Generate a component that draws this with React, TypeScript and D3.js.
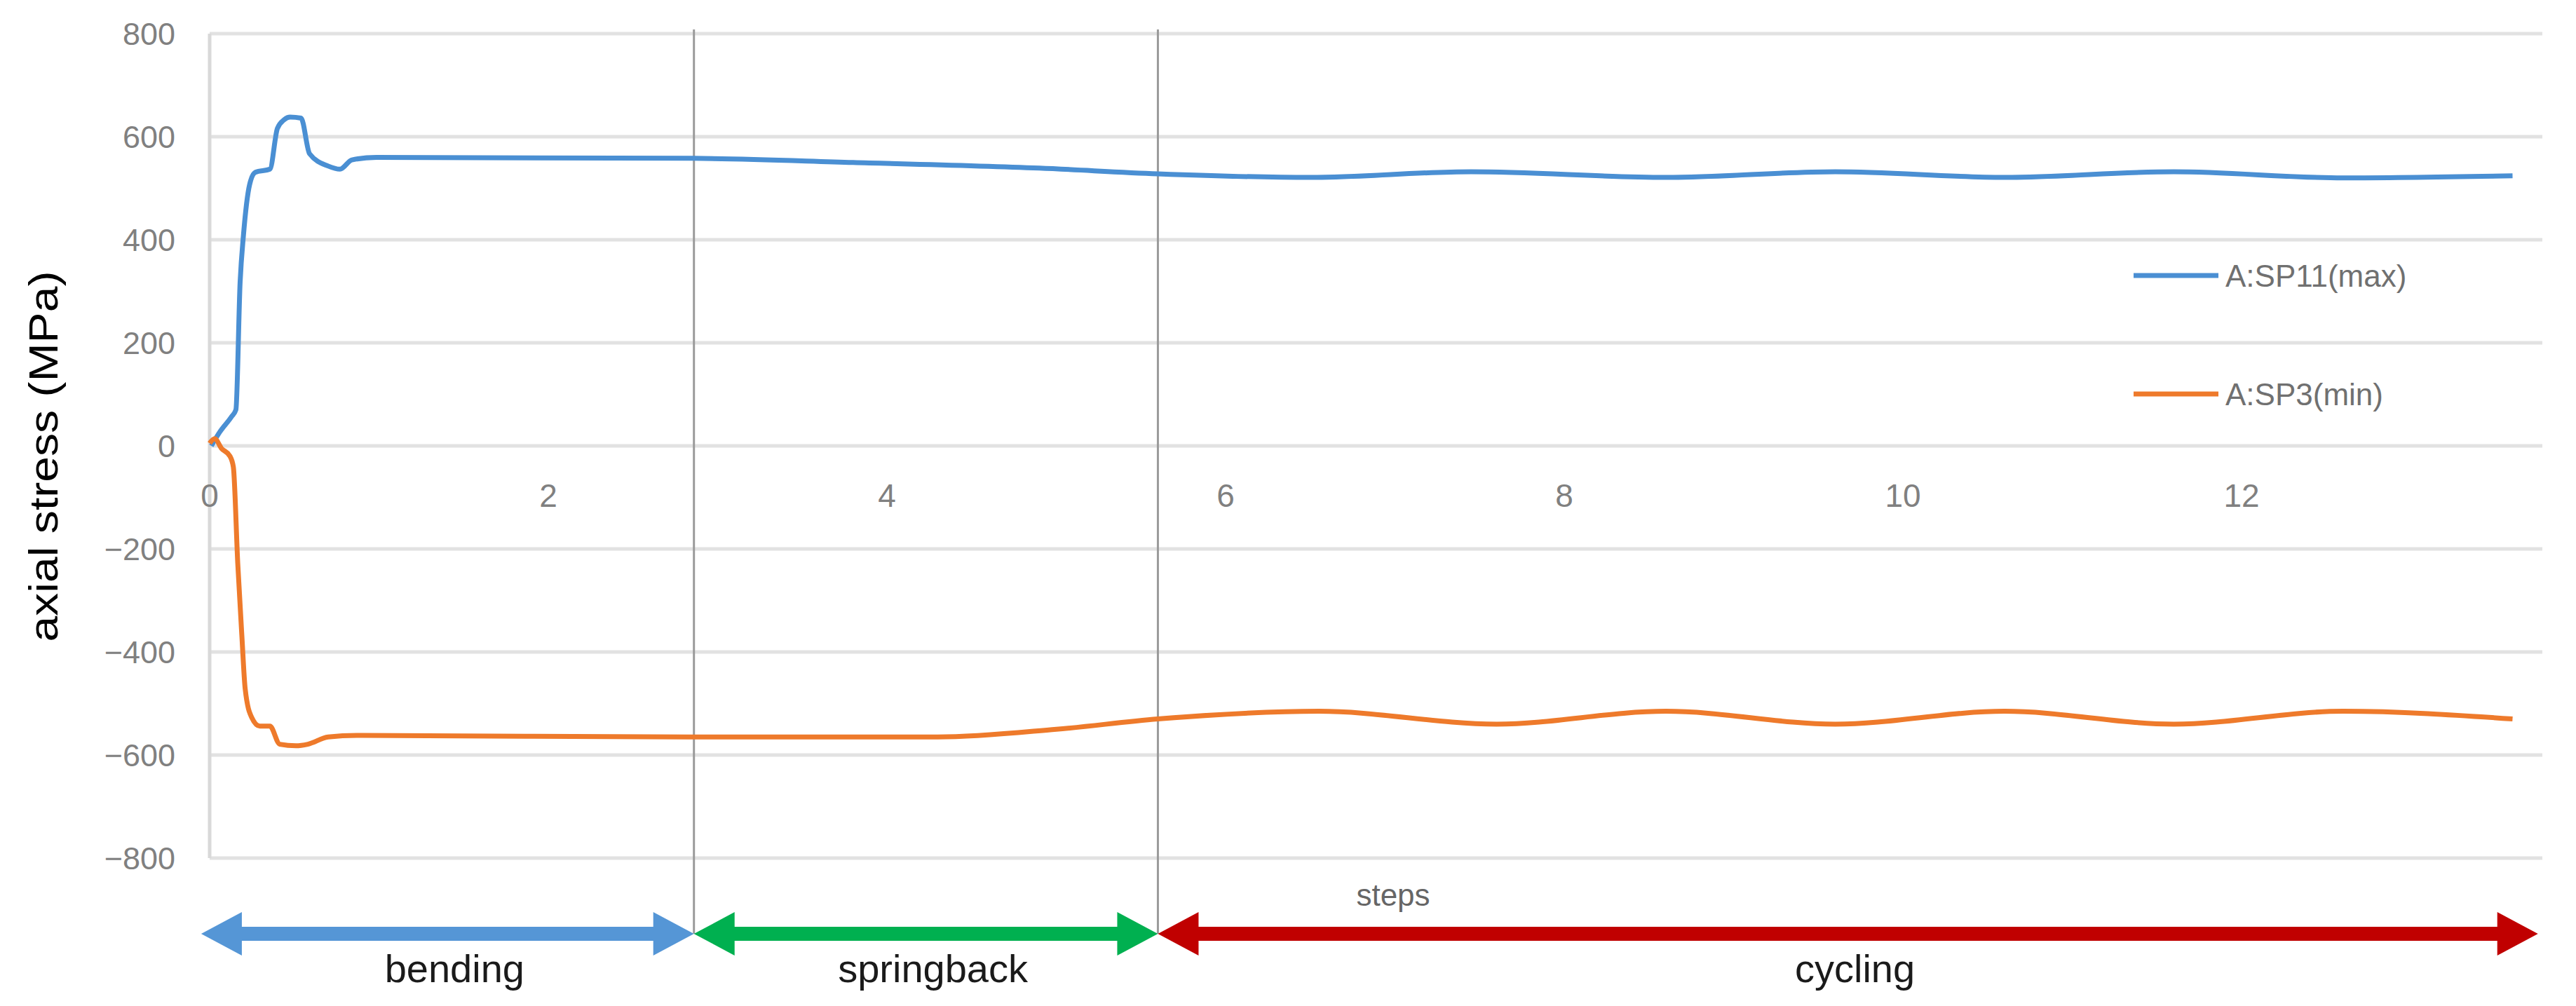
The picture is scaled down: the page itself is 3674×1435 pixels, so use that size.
import React from 'react';
import * as d3 from 'd3';

// steps (x) and axial stress in MPa (y)
const maxSteps = [0.01, 0.06, 0.13, 0.155, 0.18, 0.2, 0.236, 0.27, 0.356, 0.4, 0.44, 0.475, 0.54, 0.59, 0.7, 0.77, 0.84, 0.985, 2.86, 3.8, 4.9, 5.6, 6.5, 7.45, 8.6, 9.6, 10.6, 11.6, 12.6, 13.6];
const maxStress = [0, 27, 57, 70, 318, 410, 507, 531, 537, 616, 633, 638, 636, 567, 543, 537, 555, 560, 558, 550, 539, 528, 521, 532, 521, 532, 521, 532, 520, 524];

const minSteps = [0, 0.03, 0.07, 0.12, 0.14, 0.166, 0.19, 0.21, 0.248, 0.296, 0.356, 0.414, 0.51, 0.58, 0.7, 0.87, 2.86, 4.3, 5.0, 5.6, 6.55, 7.6, 8.6, 9.6, 10.6, 11.6, 12.6, 13.6];
const minStress = [5, 14, -5, -20, -41, -228, -367, -472, -527, -544, -544, -579, -582, -579, -565, -562, -565, -565, -550, -530, -515, -540, -515, -540, -515, -540, -515, -530];

const seriesNames = ['A:SP11(max)', 'A:SP3(min)'];
const seriesColors = ['#4a8fd3', '#ee7a2b'];

const xTicks = [0, 2, 4, 6, 8, 10, 12];
const yTicks = [-800, -600, -400, -200, 0, 200, 400, 600, 800];

const phaseNames = ['bending', 'springback', 'cycling'];
const phaseStart = [-0.05, 2.86, 5.6];
const phaseEnd = [2.86, 5.6, 13.75];
const phaseColors = ['#5596d6', '#00b050', '#c00000'];

const W = 3674;
const H = 1435;
const font = 'Arial, "Liberation Sans", sans-serif';

function arrowPath(x0: number, x1: number, cy: number) {
    const shaft = 10, head = 31, len = 58;
    return [
        [x0, cy], [x0 + len, cy - head], [x0 + len, cy - shaft],
        [x1 - len, cy - shaft], [x1 - len, cy - head], [x1, cy],
        [x1 - len, cy + head], [x1 - len, cy + shaft], [x0 + len, cy + shaft],
        [x0 + len, cy + head]
    ].map(p => p.join(',')).join(' ');
}

export default function App() {
    const x = d3.scaleLinear().domain([0, 13.776]).range([299, 3626]);
    const y = d3.scaleLinear().domain([-800, 800]).range([1224, 48]);

    const line = d3.line<[number, number]>()
        .x(d => x(d[0]))
        .y(d => y(d[1]))
        .curve(d3.curveMonotoneX);

    const maxPts = maxSteps.map((s, i) => [s, maxStress[i]] as [number, number]);
    const minPts = minSteps.map((s, i) => [s, minStress[i]] as [number, number]);
    const arrowY = 1332;

    return (
        <svg width={W} height={H} style={{position: 'absolute', left: 0, top: 0, background: '#fff'}}
             fontFamily={font}>
            {/* horizontal gridlines */}
            {yTicks.map(t => (
                <line key={'g' + t} x1={x(0)} x2={x(13.776)} y1={y(t)} y2={y(t)}
                      stroke="#e2e2e2" strokeWidth={5}/>
            ))}
            <line x1={x(0)} x2={x(0)} y1={y(800)} y2={y(-800)} stroke="#d9d9d9" strokeWidth={5}/>

            {yTicks.map(t => (
                <text key={'yt' + t} x={250} y={y(t)} dy="0.36em" textAnchor="end"
                      fontSize={45} fill="#808080">{t < 0 ? '\u2212' + Math.abs(t) : t}</text>
            ))}
            {xTicks.map(t => (
                <text key={'xt' + t} x={x(t)} y={706} dy="0.36em" textAnchor="middle"
                      fontSize={46} fill="#808080">{t}</text>
            ))}

            <text transform="translate(82,651) rotate(-90)" textAnchor="middle" fontSize={58}
                  fill="#000" textLength={529} lengthAdjust="spacingAndGlyphs">axial stress (MPa)</text>

            {/* phase boundaries */}
            {phaseStart.slice(1).map(p => (
                <line key={'p' + p} x1={x(p)} x2={x(p)} y1={42} y2={arrowY} stroke="#9a9a9a" strokeWidth={3}/>
            ))}

            <path d={line(maxPts) || ''} fill="none" stroke={seriesColors[0]} strokeWidth={7}
                  strokeLinejoin="round"/>
            <path d={line(minPts) || ''} fill="none" stroke={seriesColors[1]} strokeWidth={7}
                  strokeLinejoin="round"/>

            {/* legend */}
            {seriesNames.map((n, i) => (
                <g key={n} transform={`translate(3043,${i === 0 ? 393 : 562})`}>
                    <line x1={0} x2={121} y1={0} y2={0} stroke={seriesColors[i]} strokeWidth={7}/>
                    <text x={131} y={0} dy="0.36em" fontSize={44} fill="#707070">{n}</text>
                </g>
            ))}

            <text x={1987} y={1292} textAnchor="middle" fontSize={44} fill="#666">steps</text>

            {/* phase arrows */}
            {phaseNames.map((n, i) => (
                <g key={n}>
                    <polygon points={arrowPath(x(phaseStart[i]), x(phaseEnd[i]), arrowY)} fill={phaseColors[i]}/>
                    <text x={(x(phaseStart[i]) + x(phaseEnd[i])) / 2 + 10} y={1401} textAnchor="middle"
                          fontSize={56} fill="#1a1a1a">{n}</text>
                </g>
            ))}
        </svg>
    );
}
